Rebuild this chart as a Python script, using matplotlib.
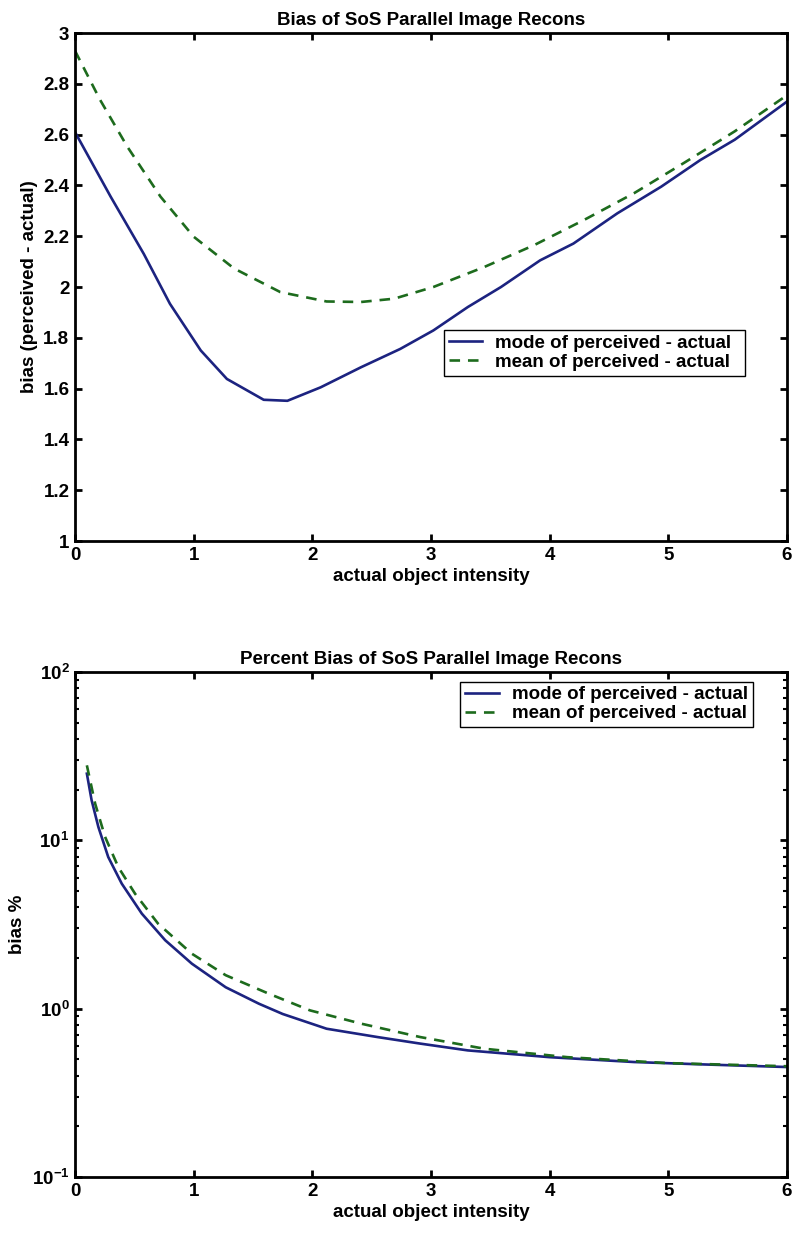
import matplotlib
matplotlib.use("Agg")
import matplotlib.pyplot as plt
from matplotlib.ticker import FixedLocator, FixedFormatter, LogLocator, NullFormatter

plt.rcParams['font.family'] = ['Liberation Sans', 'DejaVu Sans']
plt.rcParams['font.weight'] = 'bold'
plt.rcParams['mathtext.fontset'] = 'custom'
plt.rcParams['mathtext.rm'] = 'Liberation Sans:bold'
plt.rcParams['mathtext.it'] = 'Liberation Sans:bold'
plt.rcParams['mathtext.bf'] = 'Liberation Sans:bold'

# ---- top chart: bias ----
bias_mode_x = [0, 0.30, 0.58, 0.80, 1.06, 1.28, 1.59, 1.79, 2.07, 2.41, 2.74, 3.02,
               3.31, 3.59, 3.92, 4.20, 4.57, 4.94, 5.27, 5.56, 6.0]
bias_mode_y = [2.61, 2.356, 2.13, 1.934, 1.75, 1.638, 1.556, 1.552, 1.605, 1.684, 1.756, 1.829,
               1.921, 2.0, 2.105, 2.171, 2.29, 2.395, 2.50, 2.58, 2.73]

bias_mean_x = [0, 0.21, 0.44, 0.72, 1.0, 1.34, 1.73, 2.12, 2.41, 2.69, 3.02, 3.45,
               3.87, 4.29, 4.71, 5.13, 5.56, 6.0]
bias_mean_y = [2.93, 2.738, 2.553, 2.356, 2.198, 2.073, 1.98, 1.943, 1.941, 1.954, 2.0, 2.079,
               2.165, 2.264, 2.369, 2.488, 2.613, 2.755]

# ---- bottom chart: percent bias ----
pct_mode_x = [0.1, 0.14, 0.197, 0.28, 0.394, 0.563, 0.76, 0.985, 1.27, 1.55, 1.75, 2.12,
              2.55, 2.91, 3.31, 4.0, 4.71, 5.27, 6.0]
pct_mode_y = [24.9, 17.3, 12.0, 7.96, 5.53, 3.67, 2.55, 1.85, 1.34, 1.07, 0.93, 0.76,
              0.678, 0.62, 0.565, 0.515, 0.482, 0.467, 0.45]

pct_mean_x = [0.1, 0.17, 0.253, 0.365, 0.506, 0.70, 0.985, 1.27, 1.63, 1.98, 2.41, 2.91,
              3.45, 4.15, 4.99, 6.0]
pct_mean_y = [27.9, 16.5, 10.5, 6.93, 4.82, 3.2, 2.12, 1.58, 1.23, 0.977, 0.815, 0.678,
              0.578, 0.515, 0.475, 0.455]

x_ticks = [0, 1, 2, 3, 4, 5, 6]
bias_ticks = [1, 1.2, 1.4, 1.6, 1.8, 2, 2.2, 2.4, 2.6, 2.8, 3]
log_ticks = [0.1, 1, 10, 100]
log_labels = [r'$10^{-1}$', r'$10^{0}$', r'$10^{1}$', r'$10^{2}$']

labels = ["mode of perceived - actual", "mean of perceived - actual"]
blue = "#1c2380"
green = "#1d6b1d"
fs = 13.5

fig = plt.figure(figsize=(7.92, 12.34), dpi=100)
ax1 = fig.add_axes([75 / 792, 1 - 541 / 1234, 712 / 792, 508 / 1234])
ax2 = fig.add_axes([75 / 792, 1 - 1177 / 1234, 712 / 792, 505 / 1234])

leg_kw = dict(fontsize=fs, frameon=True, fancybox=False, framealpha=1, edgecolor='black',
              borderaxespad=0, handlelength=1.8, handletextpad=0.7, borderpad=0.25,
              labelspacing=0.1, mode='expand', loc='upper left')

ax1.plot(bias_mode_x, bias_mode_y, color=blue, lw=1.9, label=labels[0])
ax1.plot(bias_mean_x, bias_mean_y, color=green, lw=1.9, ls=(0, (4, 3)), label=labels[1])
ax1.set_xlim(0, 6)
ax1.set_ylim(1, 3)
ax1.set_xticks(x_ticks)
ax1.set_xticklabels([str(t) for t in x_ticks])
ax1.set_yticks(bias_ticks)
ax1.set_yticklabels(['%g' % t for t in bias_ticks])
ax1.set_title("Bias of SoS Parallel Image Recons", fontsize=fs, fontweight='bold', pad=6)
ax1.set_xlabel("actual object intensity", fontsize=fs, fontweight='bold', labelpad=3)
ax1.set_ylabel("bias (perceived - actual)", fontsize=fs, fontweight='bold', labelpad=4)
ax1.legend(bbox_to_anchor=(0.518, 0.415 - 0.089, 0.423, 0.089), **leg_kw)

ax2.semilogy(pct_mode_x, pct_mode_y, color=blue, lw=1.9, label=labels[0])
ax2.semilogy(pct_mean_x, pct_mean_y, color=green, lw=1.9, ls=(0, (4, 3)), label=labels[1])
ax2.set_xlim(0, 6)
ax2.set_ylim(0.1, 100)
ax2.set_xticks(x_ticks)
ax2.set_xticklabels([str(t) for t in x_ticks])
ax2.yaxis.set_major_locator(FixedLocator(log_ticks))
ax2.yaxis.set_major_formatter(FixedFormatter(log_labels))
ax2.yaxis.set_minor_locator(LogLocator(base=10, subs=range(2, 10)))
ax2.yaxis.set_minor_formatter(NullFormatter())
ax2.set_title("Percent Bias of SoS Parallel Image Recons", fontsize=fs, fontweight='bold', pad=6)
ax2.set_xlabel("actual object intensity", fontsize=fs, fontweight='bold', labelpad=3)
ax2.set_ylabel("bias %", fontsize=fs, fontweight='bold', labelpad=4)
ax2.legend(bbox_to_anchor=(0.541, 0.981 - 0.086, 0.411, 0.086), **leg_kw)

for ax in (ax1, ax2):
    for s in ax.spines.values():
        s.set_linewidth(2)
    ax.tick_params(which='major', direction='in', top=True, right=True,
                   length=5, width=2, labelsize=fs, pad=4)
    ax.tick_params(which='minor', direction='in', top=True, right=True,
                   length=3, width=1.5)
    for lab in ax.get_xticklabels() + ax.get_yticklabels():
        lab.set_fontweight('bold')

fig.savefig("out.png", dpi=100)
